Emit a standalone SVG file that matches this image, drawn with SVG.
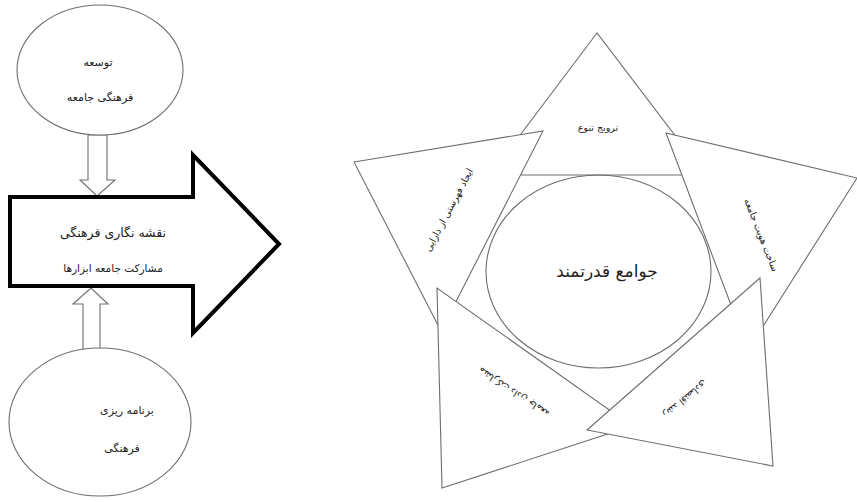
<svg xmlns="http://www.w3.org/2000/svg" width="857" height="502" viewBox="0 0 857 502">
<style>
.ln{fill:#fff;stroke:#6e6e6e;stroke-width:1.1}
.bold{fill:#fff;stroke:#000;stroke-width:4}
.t{font-family:"DejaVu Sans",sans-serif;fill:#222;text-anchor:middle;direction:rtl}
.s10{font-size:9.5px}
.s11{font-size:11px}
.s105{font-size:10.5px}
.s12{font-size:12.5px}
.s17{font-size:17px}
</style>
<rect width="857" height="502" fill="#fff"/>
<g id="connectors">
<polygon class="ln" points="88,135 107,135 107,180 115,180 97,196 80,180 88,180"/>
<polygon class="ln" points="83,350 83,304 73,304 91,288 108,304 100,304 100,350"/>
</g>
<g id="node-develop">
<ellipse class="ln" cx="100" cy="70" rx="83" ry="65"/>
<text class="t s11" x="98" y="66">توسعه</text>
<text class="t s11" x="100" y="101">فرهنگی جامعه</text>
</g>
<g id="node-mapping">
<polygon class="bold" points="10,197 193,197 193,155 279,244 193,333 193,286 10,286"/>
<text class="t s12" x="113" y="237">نقشه نگاری فرهنگی</text>
<text class="t s105" x="113" y="272">مشارکت جامعه ابزارها</text>
</g>
<g id="node-planning">
<ellipse class="ln" cx="100" cy="422" rx="91" ry="74"/>
<text class="t s11" x="127" y="414">برنامه ریزی</text>
<text class="t s11" x="122" y="452">فرهنگی</text>
</g>
<g id="node-top">
<polygon class="ln" points="597,33 490,175 705,175"/>
<text class="t s10" x="598" y="131">ترویج تنوع</text>
</g>
<g id="node-left">
<polygon class="ln" points="354,162 543,131 441,331"/>
<text class="t s10" transform="translate(449,210) rotate(-62)" y="3">ایجاد فهرستی از دارایی</text>
</g>
<g id="node-right">
<polygon class="ln" points="666,133 857,178 748,350"/>
<text class="t s10" transform="translate(761,235) rotate(68.5)" y="3">ساخت هویت جامعه</text>
</g>
<g id="node-lowerleft">
<polygon class="ln" points="437,288 442,488 632,426"/>
<text class="t s10" transform="translate(514,392) rotate(-147)" y="3">مشارکت دادن جامعه</text>
</g>
<g id="node-lowerright">
<polygon class="ln" points="760,278 587,430 773,466"/>
<text class="t s10" transform="translate(685,399) rotate(141)" y="3">رشد اقتصادی</text>
</g>
<g id="node-center">
<ellipse cx="598.5" cy="271.5" rx="112.5" ry="96.5" fill="none" stroke="#6e6e6e" stroke-width="1.1"/>
<text class="t s17" x="607" y="277">جوامع قدرتمند</text>
</g>
</svg>
